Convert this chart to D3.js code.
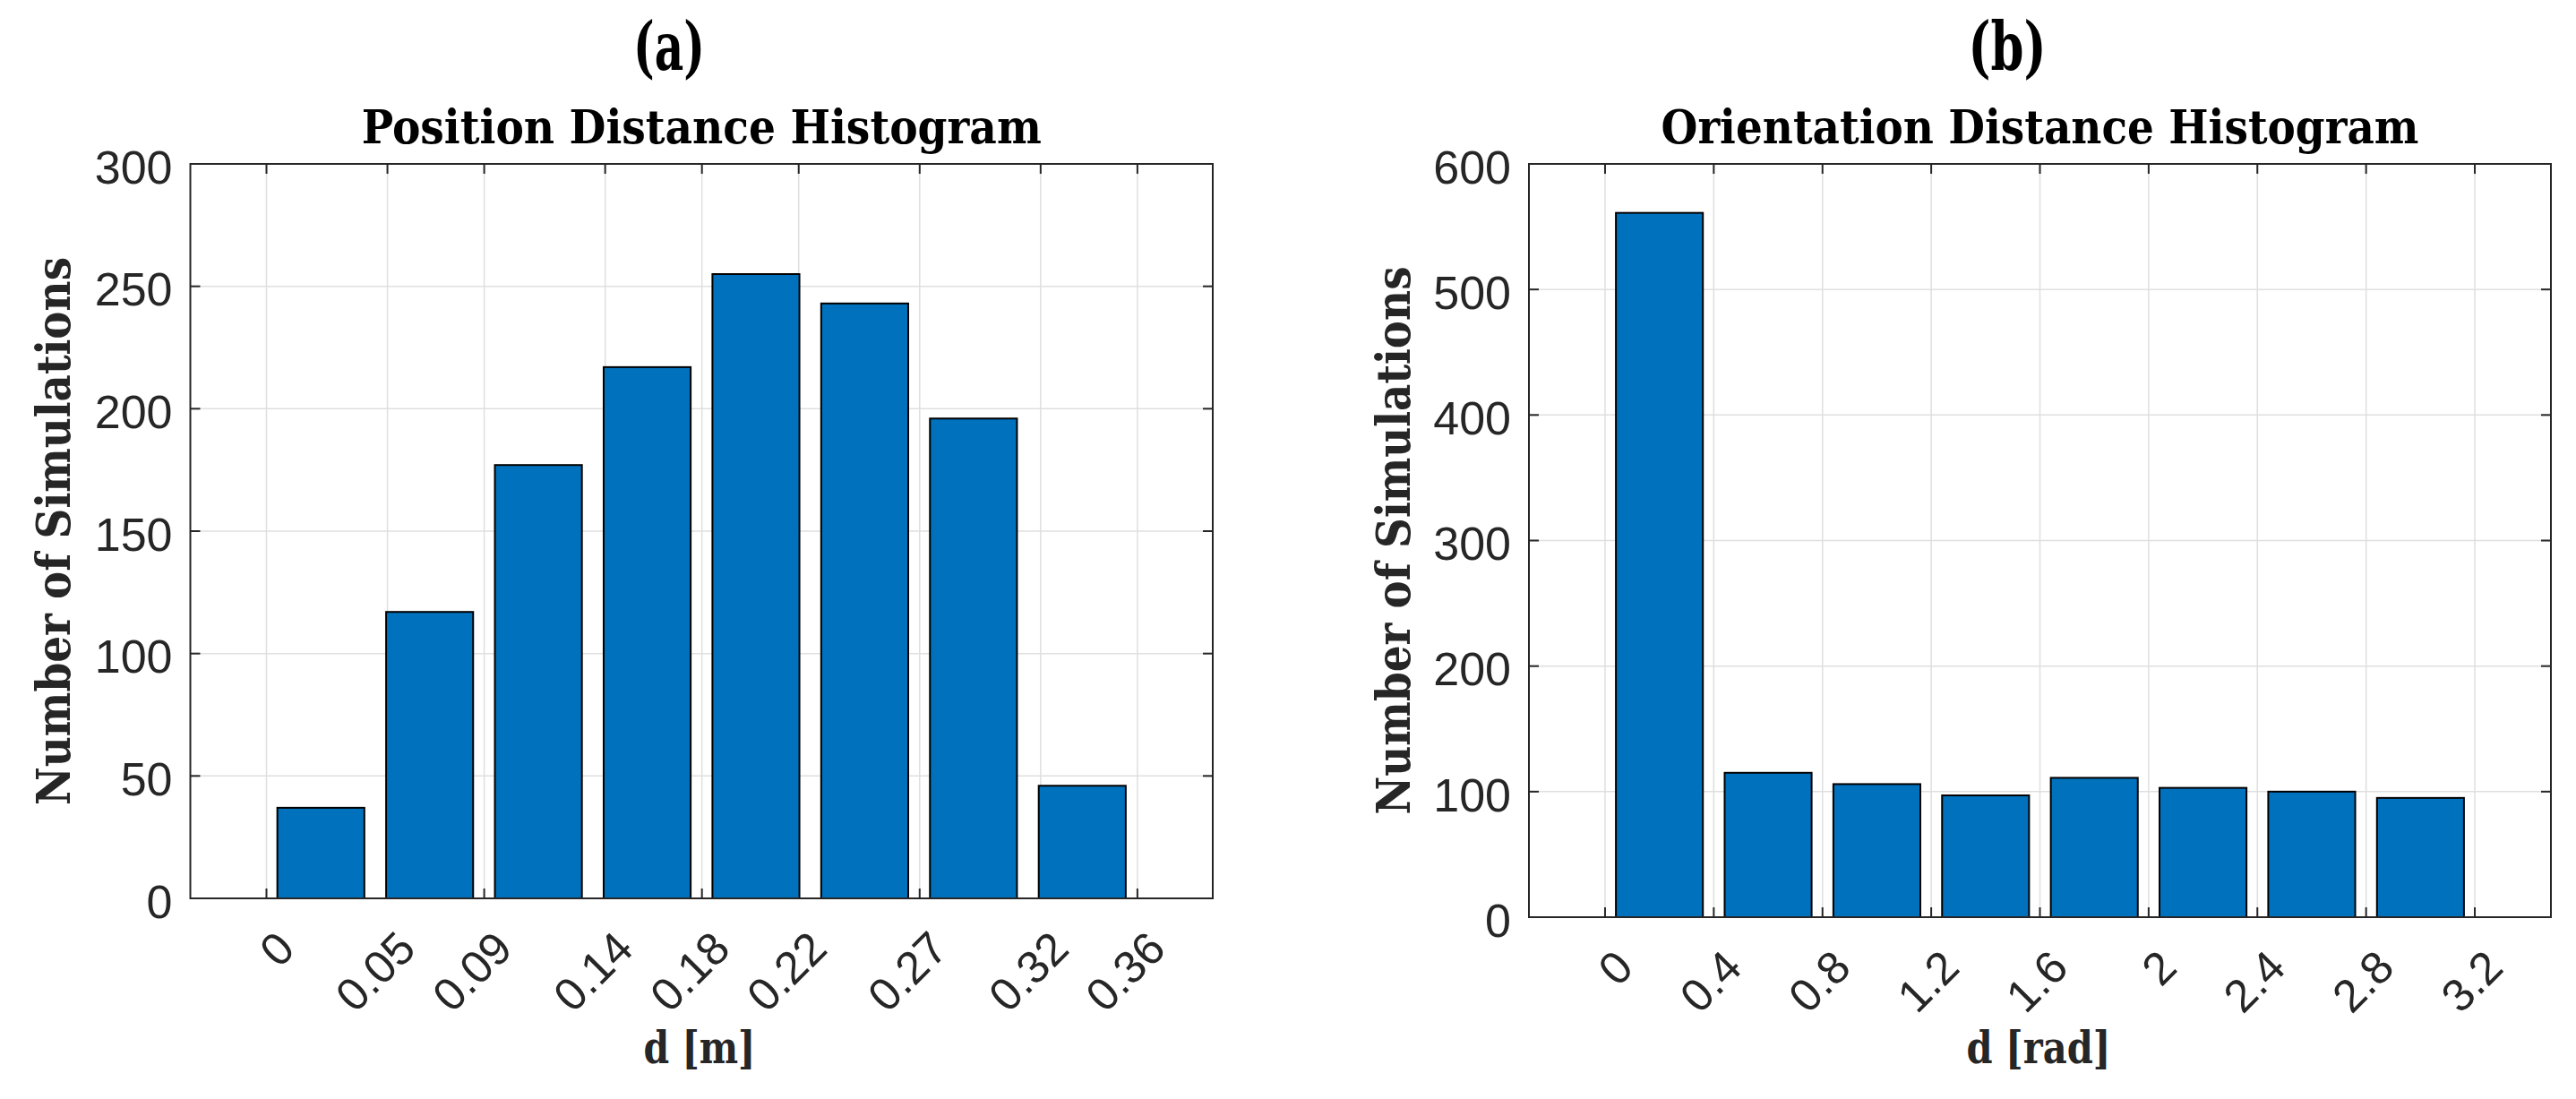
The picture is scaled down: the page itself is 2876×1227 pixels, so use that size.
<!DOCTYPE html>
<html>
<head>
<meta charset="utf-8">
<script src="https://cdn.jsdelivr.net/npm/d3@7"></script>
<style>
  html, body { margin: 0; padding: 0; background: #ffffff; }
  svg { display: block; }
</style>
</head>
<body>
<svg id="chart" width="2876" height="1227"></svg>
<script>
// ---------------- DATA ----------------
const posBinWidth = 0.04496;
const posCounts = [37, 117, 177, 217, 255, 243, 196, 46];
const posTicks = [0, 0.05, 0.09, 0.14, 0.18, 0.22, 0.27, 0.32, 0.36];
const posTickLabels = ["0", "0.05", "0.09", "0.14", "0.18", "0.22", "0.27", "0.32", "0.36"];
const posYTicks = [0, 50, 100, 150, 200, 250, 300];

const oriBinWidth = 0.4;
const oriCounts = [561, 115, 106, 97, 111, 103, 100, 95];
const oriTicks = [0, 0.4, 0.8, 1.2, 1.6, 2, 2.4, 2.8, 3.2];
const oriTickLabels = ["0", "0.4", "0.8", "1.2", "1.6", "2", "2.4", "2.8", "3.2"];
const oriYTicks = [0, 100, 200, 300, 400, 500, 600];

const panels = [
  {
    tag: "(a)", title: "Position Distance Histogram", xlabel: "d [m]", ylabel: "Number of Simulations",
    binWidth: posBinWidth, counts: posCounts, ticks: posTicks, tickLabels: posTickLabels, yTicks: posYTicks,
    yMax: 300,
    box: { x0: 212.5, x1: 1354, y0: 183, y1: 1003 },
    tagX: 747, titleLen: 759, tagLen: 80, xlabelX: 781, xlabelLen: 125, ylabelX: 59
  },
  {
    tag: "(b)", title: "Orientation Distance Histogram", xlabel: "d [rad]", ylabel: "Number of Simulations",
    binWidth: oriBinWidth, counts: oriCounts, ticks: oriTicks, tickLabels: oriTickLabels, yTicks: oriYTicks,
    yMax: 600,
    box: { x0: 1707, x1: 2848, y0: 183, y1: 1024 },
    tagX: 2241, titleLen: 846, tagLen: 87, xlabelX: 2276, xlabelLen: 161, ylabelX: 1555
  }
];

// ---------------- STYLE ----------------
const axisColor = "#262626";
const gridColor = "#dfdfdf";
const barColor = "#0072BD";
const serif = "'DejaVu Serif', 'Liberation Serif', serif";
const sans = "'Liberation Sans', Arial, Helvetica, sans-serif";
const tickLen = 11;

const svg = d3.select("#chart");
svg.append("rect").attr("width", 2876).attr("height", 1227).attr("fill", "#fff");

panels.forEach(p => {
  const b = p.box;
  const n = p.counts.length;
  const w = p.binWidth;
  const x = d3.scaleLinear().domain([-0.7 * w, (n + 0.7) * w]).range([b.x0, b.x1]);
  const y = d3.scaleLinear().domain([0, p.yMax]).range([b.y1, b.y0]);
  const g = svg.append("g");

  // grid
  g.append("g").selectAll("line.vg").data(p.ticks).join("line")
    .attr("x1", d => x(d)).attr("x2", d => x(d))
    .attr("y1", b.y0).attr("y2", b.y1)
    .attr("stroke", gridColor).attr("stroke-width", 1.5);
  g.append("g").selectAll("line.hg").data(p.yTicks).join("line")
    .attr("x1", b.x0).attr("x2", b.x1)
    .attr("y1", d => y(d)).attr("y2", d => y(d))
    .attr("stroke", gridColor).attr("stroke-width", 1.5);

  // ticks (inward, all four sides)
  const tk = g.append("g").attr("stroke", axisColor).attr("stroke-width", 2);
  p.ticks.forEach(t => {
    tk.append("line").attr("x1", x(t)).attr("x2", x(t)).attr("y1", b.y1).attr("y2", b.y1 - tickLen);
    tk.append("line").attr("x1", x(t)).attr("x2", x(t)).attr("y1", b.y0).attr("y2", b.y0 + tickLen);
  });
  p.yTicks.forEach(t => {
    tk.append("line").attr("x1", b.x0).attr("x2", b.x0 + tickLen).attr("y1", y(t)).attr("y2", y(t));
    tk.append("line").attr("x1", b.x1).attr("x2", b.x1 - tickLen).attr("y1", y(t)).attr("y2", y(t));
  });

  // bars
  g.append("g").selectAll("rect").data(p.counts).join("rect")
    .attr("x", (d, i) => x((i + 0.1) * w))
    .attr("width", (d, i) => x((i + 0.9) * w) - x((i + 0.1) * w))
    .attr("y", d => y(d))
    .attr("height", d => y(0) - y(d))
    .attr("fill", barColor)
    .attr("stroke", "#000").attr("stroke-width", 2);

  // axis box
  g.append("rect")
    .attr("x", b.x0).attr("y", b.y0)
    .attr("width", b.x1 - b.x0).attr("height", b.y1 - b.y0)
    .attr("fill", "none").attr("stroke", axisColor).attr("stroke-width", 2);

  // y tick labels
  g.append("g").selectAll("text").data(p.yTicks).join("text")
    .attr("x", b.x0 - 20).attr("y", d => y(d) + 3)
    .attr("dy", "0.36em")
    .attr("text-anchor", "end")
    .attr("font-family", sans).attr("font-size", 52)
    .attr("fill", axisColor)
    .text(d => d);

  // x tick labels (rotated 45deg)
  g.append("g").selectAll("text").data(p.ticks).join("text")
    .attr("transform", d => `translate(${x(d) + 21},${b.y1 + 46}) rotate(-45)`)
    .attr("dy", "0.36em")
    .attr("text-anchor", "end")
    .attr("font-family", sans).attr("font-size", 51)
    .attr("fill", axisColor)
    .text((d, i) => p.tickLabels[i]);

  // panel tags
  g.append("text")
    .attr("x", p.tagX).attr("y", 78)
    .attr("text-anchor", "middle")
    .attr("font-family", serif).attr("font-weight", "bold").attr("font-size", 74)
    .attr("textLength", p.tagLen).attr("lengthAdjust", "spacingAndGlyphs")
    .attr("fill", "#000").text(p.tag);
  // titles
  g.append("text")
    .attr("x", (b.x0 + b.x1) / 2).attr("y", 160)
    .attr("text-anchor", "middle")
    .attr("font-family", serif).attr("font-weight", "bold").attr("font-size", 52)
    .attr("textLength", p.titleLen).attr("lengthAdjust", "spacingAndGlyphs")
    .attr("fill", "#000").text(p.title);

  // x label
  g.append("text")
    .attr("x", p.xlabelX).attr("y", 1187)
    .attr("text-anchor", "middle")
    .attr("font-family", serif).attr("font-weight", "bold").attr("font-size", 50)
    .attr("textLength", p.xlabelLen).attr("lengthAdjust", "spacingAndGlyphs")
    .attr("fill", axisColor).text(p.xlabel);

  // y label
  const yc = (b.y0 + b.y1) / 2;
  g.append("text")
    .attr("transform", `translate(${p.ylabelX},${yc}) rotate(-90)`)
    .attr("dy", "0.36em")
    .attr("text-anchor", "middle")
    .attr("font-family", serif).attr("font-weight", "bold").attr("font-size", 53)
    .attr("textLength", 612).attr("lengthAdjust", "spacingAndGlyphs")
    .attr("fill", axisColor).text(p.ylabel);
});
</script>
</body>
</html>
